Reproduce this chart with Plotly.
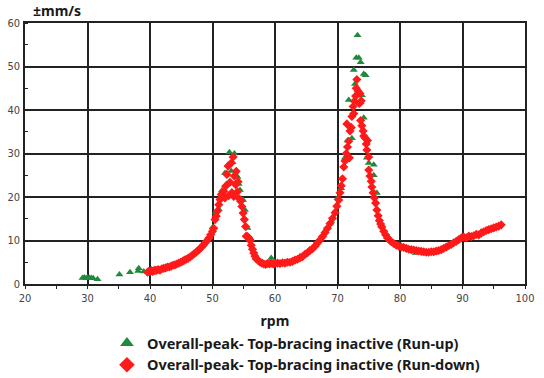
import plotly.graph_objects as go

# Run-down (red diamonds)
down_rpm = [39.6, 39.8, 40.0, 40.2, 40.4, 40.6, 40.8, 41.0, 41.3, 41.6, 41.9, 42.2, 42.5, 42.8, 43.1, 43.4, 43.7,
            44.0, 44.3, 44.6, 44.9, 45.2, 45.5, 45.8, 46.1, 46.4, 46.7, 47.0, 47.3, 47.6, 47.9, 48.2, 48.5, 48.8,
            49.1, 49.4, 49.7, 50.0, 50.2, 50.4, 50.6, 50.8, 51.0, 51.2, 51.4, 51.6, 51.8, 52.0, 52.1, 52.3, 52.5,
            52.6, 52.8, 53.0, 53.1, 53.3, 53.4, 53.5, 53.7, 53.8, 54.0, 54.1, 54.3, 54.5, 54.7, 54.9, 55.1, 55.3,
            55.4, 55.6, 55.8, 56.0, 56.2, 56.4, 56.6, 56.8, 57.0, 57.3, 57.6, 57.9, 58.2, 58.5, 58.8, 59.1, 59.4,
            59.7, 60.0, 60.4, 60.8, 61.2, 61.6, 62.0, 62.4, 62.8, 63.2, 63.6, 64.0, 64.4, 64.8, 65.2, 65.6, 66.0,
            66.4, 66.8, 67.2, 67.6, 68.0, 68.4, 68.8, 69.2, 69.6, 69.9, 70.2, 70.4, 70.6, 70.8, 71.0, 71.2, 71.4,
            71.5, 71.6, 71.8, 71.9, 72.0, 72.2, 72.3, 72.5, 72.6, 72.7, 72.9, 73.0, 73.1, 73.3, 73.5, 73.6, 73.8,
            73.7, 73.9, 74.1, 74.2, 74.4, 74.6, 74.7, 74.8, 75.0, 75.0, 75.2, 75.4, 75.5, 75.7, 75.9, 76.1, 76.3,
            76.5, 76.7, 76.9, 77.1, 77.4, 77.7, 78.0, 78.3, 78.6, 79.0, 79.4, 79.8, 80.2, 80.6, 81.0, 81.4, 81.8,
            82.2, 82.6, 83.0, 83.4, 83.8, 84.2, 84.6, 85.0, 85.4, 85.8, 86.2, 86.6, 87.0, 87.4, 87.8, 88.2, 88.6,
            89.0, 89.4, 89.8, 90.2, 90.6, 91.0, 91.4, 91.8, 92.2, 92.6, 93.0, 93.4, 93.8, 94.2, 94.6, 95.0, 95.4,
            95.8, 96.2]
down_val = [2.7, 2.9, 2.8, 3.1, 2.9, 3.0, 3.2, 3.1, 3.3, 3.2, 3.5, 3.6, 3.7, 3.9, 3.9, 4.1, 4.3,
            4.4, 4.6, 4.8, 5.0, 5.2, 5.5, 5.7, 5.9, 6.2, 6.5, 6.9, 7.2, 7.6, 8.0, 8.4, 8.9, 9.4,
            9.9, 10.5, 11.3, 12.1, 12.8, 14.8, 15.6, 16.8, 18.2, 19.4, 20.6, 20.0, 21.3, 19.8, 22.5, 25.2, 27.1,
            20.3, 23.4, 27.8, 21.0, 29.2, 20.1, 24.8, 22.8, 25.9, 21.2, 23.5, 19.6, 19.0, 17.8, 16.3, 14.8, 13.2,
            11.0, 10.9, 10.6, 10.0, 8.9, 8.0, 7.1, 6.4, 5.8, 5.4, 5.0, 4.8, 4.6, 4.5, 4.7, 4.6, 4.8,
            4.6, 4.7, 4.8, 4.7, 4.9, 4.8, 5.0, 5.0, 5.2, 5.5, 5.7, 6.0, 6.3, 6.8, 7.2, 7.7, 8.1,
            8.7, 9.4, 10.1, 10.9, 11.8, 12.8, 13.9, 15.1, 16.4, 17.9, 19.3, 21.0, 22.6, 24.2, 26.9, 28.3, 30.0,
            36.8, 31.5, 32.8, 29.0, 35.2, 36.0, 38.5, 40.8, 39.2, 42.0, 43.2, 45.0, 47.0, 44.3, 41.5, 43.8, 42.1,
            37.6, 36.4, 35.2, 34.0, 33.6, 32.2, 30.8, 33.0, 29.2, 26.2, 24.8, 23.6, 22.3, 21.0, 19.8, 18.6, 17.0,
            15.7, 14.6, 13.8, 13.1, 12.1, 11.3, 10.6, 10.1, 9.7, 9.3, 8.9, 8.7, 8.5, 8.4, 8.2, 8.0, 7.9,
            7.8, 7.7, 7.6, 7.5, 7.4, 7.3, 7.3, 7.4, 7.4, 7.6, 7.7, 7.9, 8.2, 8.5, 8.8, 9.1, 9.5,
            9.8, 10.2, 10.6, 10.8, 10.6, 11.0, 10.9, 11.1, 11.4, 11.3, 11.7, 12.0, 12.3, 12.5, 12.7, 12.9, 13.1,
            13.3, 13.6]

# Run-up (green triangles)
up_rpm = [29.2, 29.5, 29.8, 30.0, 30.3, 30.6, 30.9, 31.6, 35.1, 36.8, 38.1, 38.2, 39.0, 40.5, 42.0, 44.0,
          46.0, 47.5, 48.5, 49.5, 50.0, 50.5, 51.0, 51.5, 52.0, 52.3, 52.5, 52.7, 53.0, 53.2, 53.5, 53.8,
          54.0, 54.2, 54.4, 54.9, 55.2, 55.6, 56.2, 57.0, 58.0, 59.4, 60.0, 62.0, 64.0, 65.5, 67.0, 68.0,
          69.0, 70.0, 70.6, 71.2, 71.6, 71.8, 72.1, 72.3, 72.6, 72.8, 73.0, 73.2, 73.4, 73.7, 73.7, 73.9,
          74.2, 74.2, 74.5, 74.7, 75.0, 75.8, 75.8, 76.3, 77.0, 78.0, 79.0, 80.5, 82.5, 84.0, 85.5, 87.0,
          88.5, 90.0, 92.0, 93.0, 94.0, 95.0]
up_val = [1.4, 1.5, 1.3, 1.5, 1.4, 1.4, 1.3, 1.1, 2.2, 2.7, 3.0, 3.6, 2.9, 3.2, 3.6, 4.5,
          6.0, 7.7, 9.0, 11.0, 13.0, 16.5, 17.2, 21.5, 25.5, 23.0, 27.4, 30.3, 26.0, 28.0, 30.0, 25.0,
          24.6, 23.0, 21.6, 19.3, 17.0, 12.9, 10.3, 6.0, 5.0, 6.0, 5.0, 5.2, 6.3, 7.9, 10.0, 12.2,
          14.5, 19.7, 22.0, 29.0, 33.0, 42.3, 36.0, 33.5, 49.2, 46.0, 52.0, 57.2, 52.0, 51.0, 41.8, 43.4,
          48.3, 38.2, 48.0, 29.0, 27.8, 27.4, 25.0, 20.9, 13.5, 11.0, 9.5, 8.6, 7.1, 7.0, 7.2, 8.0,
          9.5, 10.5, 11.0, 12.0, 12.5, 13.0]

x_ticks = [20, 30, 40, 50, 60, 70, 80, 90, 100]
y_ticks = [0, 10, 20, 30, 40, 50, 60]

fig = go.Figure()
fig.add_trace(go.Scatter(
    x=up_rpm, y=up_val, mode="markers",
    name="Overall-peak- Top-bracing inactive (Run-up)",
    marker=dict(symbol="triangle-up", size=7, color="#1f8a3c", line=dict(width=0)),
))
fig.add_trace(go.Scatter(
    x=down_rpm, y=down_val, mode="markers",
    name="Overall-peak- Top-bracing inactive (Run-down)",
    marker=dict(symbol="diamond", size=7, color="#ff1a1a", line=dict(width=0)),
))

axis_common = dict(
    showgrid=True, gridcolor="#222222", gridwidth=1.5,
    showline=True, linecolor="#222222", linewidth=1.5, mirror=True,
    zeroline=False, automargin=False,
    tickcolor="#222222",
    tickfont=dict(family="DejaVu Sans Condensed", size=11, color="#444"),
)

fig.update_layout(
    width=544, height=378,
    margin=dict(l=25, r=19, t=23, b=94, autoexpand=False),
    paper_bgcolor="white", plot_bgcolor="white",
    showlegend=True,
    legend=dict(
        orientation="v", xref="container", yref="container",
        x=0.544, xanchor="center", y=0.135, yanchor="top",
        font=dict(family="Noto Sans", size=14.5, color="#1a1a1a", weight="bold"),
        itemsizing="constant", tracegroupgap=0, itemwidth=30,
    ),
    xaxis=dict(
        range=[20, 100], tickvals=x_ticks, ticks="outside", ticklen=3,
        title=dict(text="rpm", font=dict(family="Noto Sans", size=14, color="#1a1a1a", weight="bold"), standoff=12),
        minor=dict(dtick=5, ticks="outside", ticklen=3, tickcolor="#222222", showgrid=False),
        **axis_common,
    ),
    yaxis=dict(
        range=[0, 60], tickvals=y_ticks, ticks="", ticklabelstandoff=1,
        minor=dict(dtick=5, ticks="inside", ticklen=3, tickcolor="#222222", showgrid=False),
        **axis_common,
    ),
    annotations=[dict(
        text="±mm/s", xref="paper", yref="paper", x=0.0, y=1.0,
        xanchor="left", yanchor="bottom", yshift=1, xshift=6, showarrow=False,
        font=dict(family="Noto Sans", size=14, color="#1a1a1a", weight="bold"),
    )],
)

fig.write_html("out.html", config={"displayModeBar": False},
               post_script="document.body.style.margin='0';")
